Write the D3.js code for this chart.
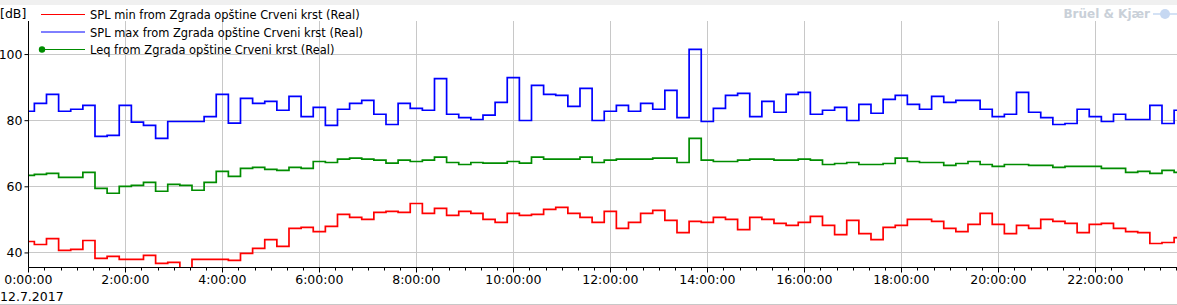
<!DOCTYPE html>
<html>
<head>
<meta charset="utf-8">
<script src="https://cdn.jsdelivr.net/npm/d3@7"></script>
<style>
  html, body { margin: 0; padding: 0; background: #ffffff; }
  svg { display: block; }
  text { font-family: "DejaVu Sans", sans-serif; }
</style>
</head>
<body>
<svg id="chart" width="1177" height="305"></svg>
<script>
// ---- data (15-minute intervals starting 0:00, 12.7.2017) ----
const hours = d3.range(96).map(i => i * 0.25);
const splMin = [43.3,42.4,44.2,40.6,40.9,43.6,38.2,38.8,37.9,37.9,39.1,36.7,37.0,34.0,37.9,37.9,37.9,37.6,39.7,41.2,43.9,41.8,47.3,47.6,46.3,47.9,51.5,50.6,50.0,52.1,52.4,52.1,54.8,51.8,53.3,51.2,52.4,51.8,50.0,49.1,51.8,51.2,51.5,53.0,53.6,51.8,50.6,49.1,52.4,47.3,49.1,51.8,52.7,49.7,46.0,49.4,49.1,50.6,50.0,46.9,50.6,50.0,48.8,48.2,49.1,50.9,48.2,45.4,49.7,45.7,43.9,47.6,48.2,50.0,50.0,49.4,47.3,46.3,48.5,51.8,48.5,45.7,48.2,47.3,50.0,49.4,48.8,46.0,48.5,48.8,47.3,46.3,46.0,42.7,43.0,44.5];
const splMax = [82.7,85.1,87.8,82.7,83.3,84.5,75.1,75.4,84.5,79.4,78.4,74.5,79.6,79.6,79.6,81.1,87.8,79.1,86.6,85.1,85.7,83.0,87.2,81.1,83.9,78.4,83.3,85.1,86.0,81.8,78.7,85.1,83.6,83.0,92.6,81.8,80.8,80.2,81.5,85.4,92.9,79.9,90.5,87.8,87.5,84.2,89.6,79.9,82.7,84.5,82.7,85.1,83.3,89.0,80.8,101.4,79.6,83.6,87.5,88.1,81.1,85.7,82.4,87.8,88.4,81.8,83.0,83.9,79.9,84.8,82.1,86.3,87.5,84.8,83.3,87.2,85.4,86.0,86.0,83.3,81.1,81.8,88.4,82.4,80.8,78.7,79.0,83.3,81.1,79.6,81.8,80.2,80.2,84.5,79.0,83.0];
const leq = [63.3,63.6,63.9,62.7,62.7,64.2,59.4,57.9,60.0,60.3,61.2,58.5,60.6,60.3,58.8,61.2,64.5,63.0,65.4,65.7,65.1,64.8,65.7,65.4,67.5,67.2,68.2,68.5,68.2,67.9,67.0,67.9,67.5,67.9,68.8,67.2,66.6,67.2,67.0,67.0,67.5,67.0,68.8,68.2,68.2,68.2,68.8,67.2,67.9,68.2,68.2,68.2,68.5,68.5,67.2,74.5,67.9,67.5,67.5,67.9,68.2,68.2,67.9,67.9,68.2,67.9,66.6,66.9,67.2,66.6,66.6,66.9,68.5,67.5,67.2,67.2,66.3,66.9,67.5,66.6,66.0,66.6,66.6,66.3,66.3,65.7,66.0,66.0,66.0,65.4,65.4,64.2,64.5,63.9,64.8,64.2];
const yTicks = [40, 60, 80, 100];
const xTicks = [0, 2, 4, 6, 8, 10, 12, 14, 16, 18, 20, 22];
const xTickLabels = ["0:00:00","2:00:00","4:00:00","6:00:00","8:00:00","10:00:00","12:00:00","14:00:00","16:00:00","18:00:00","20:00:00","22:00:00"];
const seriesNames = ["SPL min from Zgrada opštine Crveni krst (Real)", "SPL max from Zgrada opštine Crveni krst (Real)", "Leq from Zgrada opštine Crveni krst (Real)"];
const seriesColors = ["#ff0000", "#0000ff", "#008c00"];
const dateLabel = "12.7.2017";

// ---- layout ----
const W = 1177, H = 305;
const pLeft = 28.3, pRight = 1177, pTop = 21, pBottom = 267.3;
const legendTextWidth = 270;
const svg = d3.select("#chart");

const x = d3.scaleLinear().domain([0, 24]).range([pLeft, pLeft + 48.5 * 24]);
const y = d3.scaleLinear().domain([35.5, 110]).range([pBottom, pTop]);

// top strip
svg.append("rect").attr("x", 0).attr("y", 0).attr("width", W).attr("height", 5).attr("fill", "#f0f0f0");
// bottom separator
svg.append("line").attr("x1", 0).attr("x2", W).attr("y1", 304.5).attr("y2", 304.5).attr("stroke", "#c8c8c8");

svg.append("defs").append("clipPath").attr("id", "clip")
  .append("rect").attr("x", pLeft).attr("y", pTop).attr("width", pRight - pLeft).attr("height", pBottom - pTop);

// grid
const grid = svg.append("g");
grid.selectAll("line.vg").data(xTicks.filter(d => d > 0)).join("line")
  .attr("x1", d => Math.round(x(d)) + 0.5).attr("x2", d => Math.round(x(d)) + 0.5)
  .attr("y1", pTop).attr("y2", pBottom).attr("stroke", "#c8c8c8");
grid.selectAll("line.hg").data(yTicks).join("line")
  .attr("x1", pLeft).attr("x2", pRight)
  .attr("y1", d => Math.round(y(d)) + 0.5).attr("y2", d => Math.round(y(d)) + 0.5).attr("stroke", "#c8c8c8");

// series
const line = d3.line().x((d, i) => x(hours[i])).y(d => y(d)).curve(d3.curveStep);
const plot = svg.append("g").attr("clip-path", "url(#clip)");
[splMin, splMax, leq].forEach((s, k) => {
  plot.append("path").datum(s).attr("d", line).attr("fill", "none")
    .attr("stroke", seriesColors[k]).attr("stroke-width", 1.7);
});

// y axis
const yAxis = svg.append("g").attr("transform", `translate(${Math.round(pLeft) + 0.5},0)`)
  .call(d3.axisLeft(y).tickValues(yTicks).tickSize(4).tickPadding(2));
yAxis.select(".domain").attr("d", `M0,${pTop}V${pBottom}`).attr("stroke", "#000");
yAxis.selectAll("text").attr("font-size", 12.5).attr("fill", "#000").style("font-family", "DejaVu Sans");

// x axis
const xAxis = svg.append("g").attr("transform", `translate(0,${Math.round(pBottom) + 0.5})`);
xAxis.append("line").attr("x1", pLeft).attr("x2", pRight).attr("y1", 0).attr("y2", 0).attr("stroke", "#000");
const minor = d3.range(0, 24, 1 / 3).filter(h => x(h) <= pRight);
xAxis.selectAll("line.minor").data(minor).join("line")
  .attr("x1", d => Math.round(x(d)) + 0.5).attr("x2", d => Math.round(x(d)) + 0.5)
  .attr("y1", 0).attr("y2", d => (Math.abs(d - Math.round(d)) < 1e-6 && Math.round(d) % 2 === 0) ? 5 : 3)
  .attr("stroke", "#000");
xAxis.selectAll("text.xl").data(xTicks).join("text")
  .attr("x", d => x(d)).attr("y", 16).attr("text-anchor", "middle")
  .attr("font-size", 12.5).attr("fill", "#000")
  .text((d, i) => xTickLabels[i]);
svg.append("text").attr("x", 0).attr("y", 301).attr("font-size", 12.5).attr("fill", "#000").text(dateLabel);

// unit label
svg.append("text").attr("x", 0).attr("y", 18).attr("font-size", 12.5).attr("fill", "#000").text("[dB]");

// legend
const leg = svg.append("g");
const legTexts = [];
seriesNames.forEach((n, k) => {
  const ly = 14.5 + k * 17.5;
  leg.append("line").attr("x1", 41).attr("x2", 85).attr("y1", ly).attr("y2", ly)
    .attr("stroke", seriesColors[k]).attr("stroke-width", 1);
  if (k === 2) leg.append("circle").attr("cx", 42).attr("cy", ly).attr("r", 3.2).attr("fill", seriesColors[k]);
  legTexts.push(leg.append("text").attr("x", 90).attr("y", ly + 4.5).attr("font-size", 12).attr("fill", "#000").text(n));
});
// size legend font so the first entry spans the same width as in the reference
const measured = legTexts[0].node().getComputedTextLength();
const legFont = 12 * legendTextWidth / measured;
legTexts.forEach(t => t.attr("font-size", legFont));

// logo
svg.append("text").attr("x", 1150).attr("y", 18).attr("text-anchor", "end")
  .attr("font-size", 12).attr("font-weight", "bold").attr("fill", "#c9d0d8").text("Brüel & Kjær");
const globe = svg.append("g").attr("transform", "translate(1165,14)");
globe.append("circle").attr("r", 5).attr("fill", "#c6d8f2");
globe.append("line").attr("x1", -12).attr("x2", 12).attr("y1", 0).attr("y2", 0).attr("stroke", "#c6d8f2").attr("stroke-width", 1.5);
</script>
</body>
</html>
